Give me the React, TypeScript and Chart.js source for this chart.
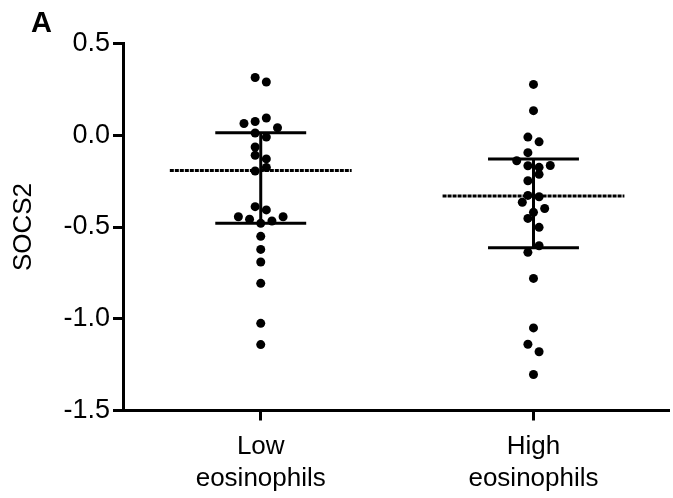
import React, { useEffect, useRef } from "react";
import { Chart, registerables } from "chart.js";

Chart.register(...registerables);

// Group labels (one line per array entry) and y-axis ticks
const categoryLabels: string[][] = [
  ["Low", "eosinophils"],
  ["High", "eosinophils"],
];
const yTickValues = [0.5, 0.0, -0.5, -1.0, -1.5];

// SOCS2 expression per sample, low-eosinophil group
const lowValues = [
  0.315, 0.29, 0.094, 0.075, 0.064, 0.041, 0.012, -0.01, -0.064, -0.109,
  -0.129, -0.195, -0.176, -0.389, -0.407, -0.444, -0.458, -0.444, -0.467,
  -0.48, -0.551, -0.622, -0.691, -0.807, -1.025, -1.141,
];
// swarm column of each low-group dot (in dot widths from the centre)
const lowSwarm = [
  -0.5, 0.5, 0.5, -0.5, -1.5, 1.5, -0.5, 0.5, -0.5, -0.5, 0.5, -0.5, 0.5,
  -0.5, 0.5, -2, -1, 2, 1, 0, 0, 0, 0, 0, 0, 0,
];

// SOCS2 expression per sample, high-eosinophil group
const highValues = [
  0.277, 0.134, -0.01, -0.036, -0.095, -0.139, -0.166, -0.175, -0.165,
  -0.213, -0.248, -0.328, -0.335, -0.365, -0.399, -0.42, -0.453, -0.502,
  -0.602, -0.638, -0.78, -1.05, -1.139, -1.18, -1.304,
];
const highSwarm = [
  0, 0, -0.5, 0.5, -0.5, -1.5, -0.5, 0.5, 1.5, 0.5, -0.5, -0.5, 0.5, -1, 1,
  0, -0.5, 0.5, 0.5, -0.5, 0, 0, -0.5, 0.5, 0,
];

// Centre line and error-bar limits for each group
const centerValues = [-0.192, -0.331];
const upperValues = [0.014, -0.129];
const lowerValues = [-0.48, -0.613];

const SLOT = 0.041; // width of one swarm column, in category units
const CENTER_HALF = 1 / 3; // half length of the centre line
const CAP_HALF = 1 / 6; // half length of the error-bar caps
const FONT = '"Liberation Sans", Arial, Helvetica, sans-serif';

function swarmPoints(values: number[], swarm: number[], pos: number) {
  return values.map((v, i) => ({ x: pos + swarm[i] * SLOT, y: v }));
}

function segment(data: { x: number; y: number }[], dash: number[] = []) {
  return {
    type: "scatter" as const,
    data,
    showLine: true,
    borderColor: "#000",
    borderWidth: 3,
    borderDash: dash,
    borderCapStyle: "butt" as const,
    pointRadius: 0,
    pointHoverRadius: 0,
    order: 2,
  };
}

const panelLetter = {
  id: "panelLetter",
  afterDraw(chart: Chart) {
    const ctx = chart.ctx;
    ctx.save();
    ctx.font = `bold 29px ${FONT}`;
    ctx.fillStyle = "#000";
    ctx.textBaseline = "alphabetic";
    ctx.textAlign = "left";
    ctx.fillText("A", 31, 32);
    ctx.restore();
  },
};

export default function App() {
  const canvasRef = useRef<HTMLCanvasElement | null>(null);

  useEffect(() => {
    document.body.style.margin = "0";
    const canvas = canvasRef.current;
    if (!canvas) return;

    const datasets: any[] = [];
    const groupsData = [
      { values: lowValues, swarm: lowSwarm },
      { values: highValues, swarm: highSwarm },
    ];
    groupsData.forEach((g, i) => {
      const pos = i + 1;
      datasets.push({
        type: "scatter",
        data: swarmPoints(g.values, g.swarm, pos),
        backgroundColor: "#000",
        borderWidth: 0,
        pointRadius: 4.5,
        pointHoverRadius: 4.5,
        order: 1,
      });
      datasets.push(
        segment(
          [
            { x: pos - CENTER_HALF, y: centerValues[i] },
            { x: pos + CENTER_HALF, y: centerValues[i] },
          ],
          [4, 1]
        )
      );
      datasets.push(
        segment([
          { x: pos - CAP_HALF, y: upperValues[i] },
          { x: pos + CAP_HALF, y: upperValues[i] },
        ])
      );
      datasets.push(
        segment([
          { x: pos - CAP_HALF, y: lowerValues[i] },
          { x: pos + CAP_HALF, y: lowerValues[i] },
        ])
      );
      datasets.push(
        segment([
          { x: pos, y: upperValues[i] },
          { x: pos, y: lowerValues[i] },
        ])
      );
    });

    const chart = new Chart(canvas, {
      type: "scatter",
      data: { datasets },
      plugins: [panelLetter],
      options: {
        animation: false,
        responsive: false,
        events: [],
        layout: { padding: { top: 43.5, left: 0, right: 0, bottom: 0 } },
        plugins: {
          legend: { display: false },
          tooltip: { enabled: false },
        },
        scales: {
          x: {
            type: "linear",
            min: 0.495,
            max: 2.495,
            afterBuildTicks: (s: any) => {
              s.ticks = categoryLabels.map((_, i) => ({ value: i + 1 }));
            },
            afterFit: (s: any) => {
              s.height = 87.5;
            },
            ticks: {
              autoSkip: false,
              maxRotation: 0,
              color: "#000",
              padding: 10,
              font: { family: FONT, size: 26, lineHeight: 1.23 },
              callback: (v: any) => categoryLabels[Math.round(Number(v)) - 1],
            },
            grid: {
              drawOnChartArea: false,
              color: "#000",
              lineWidth: 3,
              tickLength: 10,
            },
            border: { display: true, color: "#000", width: 3 },
          },
          y: {
            type: "linear",
            min: -1.5,
            max: 0.5,
            afterBuildTicks: (s: any) => {
              s.ticks = yTickValues.map((v) => ({ value: v }));
            },
            afterFit: (s: any) => {
              s.width = 123;
            },
            ticks: {
              color: "#000",
              padding: 3,
              font: { family: FONT, size: 27 },
              callback: (v: any) => Number(v).toFixed(1),
            },
            grid: {
              drawOnChartArea: false,
              color: "#000",
              lineWidth: 3,
              tickLength: 10,
            },
            border: { display: true, color: "#000", width: 3 },
            title: {
              display: true,
              text: "SOCS2",
              color: "#000",
              font: { family: FONT, size: 26 },
              padding: { top: 8, bottom: 0 },
            },
          },
        },
      },
    });

    return () => chart.destroy();
  }, []);

  return (
    <div style={{ width: 673, height: 498 }}>
      <canvas
        ref={canvasRef}
        width={673}
        height={498}
        style={{ display: "block", width: 673, height: 498 }}
      />
    </div>
  );
}
